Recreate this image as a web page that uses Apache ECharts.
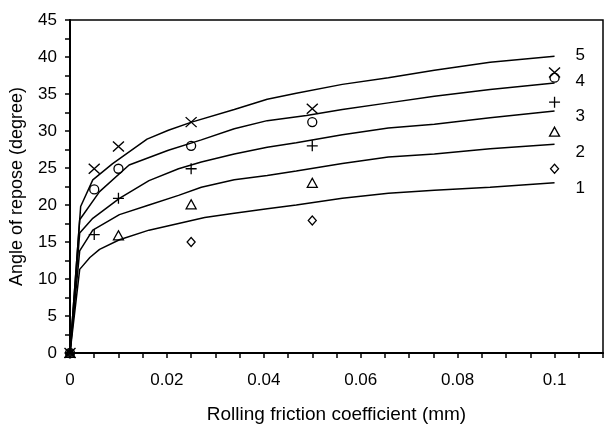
<!DOCTYPE html>
<html>
<head>
<meta charset="utf-8">
<script src="https://cdn.jsdelivr.net/npm/echarts@6/dist/echarts.min.js"></script>
<style>html,body{margin:0;padding:0;background:#fff}#c{width:606px;height:429px}</style>
</head>
<body>
<div id="c"></div>
<script>
// Fitted curves (x = rolling friction coefficient, y = angle of repose)
const curve1 = [[0,0],[0.002,11.3],[0.0041,12.9],[0.0061,14.0],[0.0102,15.3],[0.0163,16.6],[0.0224,17.5],[0.0278,18.3],[0.0339,18.9],[0.0407,19.5],[0.0467,20.0],[0.0562,20.9],[0.0657,21.6],[0.0752,22.0],[0.0867,22.4],[0.1,23.0]];
const curve2 = [[0,0],[0.002,13.8],[0.0047,16.6],[0.0102,18.7],[0.0163,20.0],[0.0224,21.3],[0.0271,22.4],[0.0339,23.4],[0.0407,24.0],[0.0467,24.6],[0.0562,25.6],[0.0657,26.5],[0.0752,26.9],[0.0867,27.6],[0.1,28.2]];
const curve3 = [[0,0],[0.002,16.2],[0.0047,18.2],[0.0102,20.9],[0.0163,23.3],[0.0224,24.9],[0.0271,25.8],[0.0339,26.9],[0.0407,27.8],[0.0467,28.4],[0.0562,29.5],[0.0657,30.4],[0.0752,30.9],[0.0867,31.8],[0.1,32.7]];
const curve4 = [[0,0],[0.002,18.0],[0.0061,21.8],[0.0122,25.4],[0.0203,27.4],[0.0271,28.8],[0.0339,30.3],[0.0407,31.4],[0.0488,32.1],[0.0562,32.9],[0.0657,33.8],[0.0752,34.7],[0.0867,35.6],[0.1,36.5]];
const curve5 = [[0,0],[0.0022,19.8],[0.0047,23.4],[0.0088,25.6],[0.0159,28.9],[0.0203,30.1],[0.0251,31.2],[0.0339,32.9],[0.0407,34.3],[0.0467,35.1],[0.0562,36.3],[0.0657,37.2],[0.0752,38.2],[0.0867,39.3],[0.1,40.1]];
// Measured points
const points1 = [[0,0],[0.025,15.0],[0.05,17.9],[0.1,24.9]];
const points2 = [[0,0],[0.01,15.9],[0.025,20.1],[0.05,23.0],[0.1,29.9]];
const points3 = [[0,0],[0.005,16.0],[0.01,20.9],[0.025,24.9],[0.05,28.0],[0.1,33.9]];
const points4 = [[0,0],[0.005,22.1],[0.01,24.9],[0.025,28.0],[0.05,31.2],[0.1,37.2]];
const points5 = [[0,0],[0.005,24.9],[0.01,27.9],[0.025,31.2],[0.05,33.0],[0.1,37.9]];
const curveNames = ['1','2','3','4','5'];

const font = '"Liberation Sans", Arial, sans-serif';
const curves = [curve1, curve2, curve3, curve4, curve5];
const pts = [points1, points2, points3, points4, points5];
const labelDy = [6, 8, 5, -2, -1];
const symbols = [
  {symbol:'diamond', size:[8,9]},
  {symbol:'triangle', size:[10,9]},
  {symbol:'path://M5,0L5,10M0,5L10,5', size:[11,11]},
  {symbol:'circle', size:9},
  {symbol:'path://M0,0L10,10M10,0L0,10', size:[11,10]}
];

const series = [];
curves.forEach((c, i) => {
  series.push({
    type:'line', name: curveNames[i], data: c, showSymbol:false, symbol:'none',
    lineStyle:{color:'#000', width:1.5}, silent:true,
    endLabel:{show:true, formatter: curveNames[i], offset:[13, labelDy[i]], color:'#000', fontSize:17, fontFamily:font},
    z:2
  });
});
pts.forEach((p, i) => {
  series.push({
    type:'scatter', name:'pts'+(i+1), data:p, symbol:symbols[i].symbol, symbolSize:symbols[i].size,
    itemStyle:{color:'rgba(255,255,255,0)', borderColor:'#000', borderWidth:1.3, opacity:1},
    z:3
  });
});

const chart = echarts.init(document.getElementById('c'), null, {renderer:'canvas'});
chart.setOption({
  animation:false,
  backgroundColor:'#fff',
  grid:{left:70, top:20, right:-5, bottom:73, show:true, borderColor:'#000', borderWidth:1.5, containLabel:false},
  xAxis:{
    type:'value', min:0, max:0.11, interval:0.005,
    name:'Rolling friction coefficient (mm)', nameLocation:'middle', nameGap:52,
    nameTextStyle:{color:'#000', fontSize:19, fontFamily:font},
    axisLine:{lineStyle:{color:'#000', width:2}},
    axisTick:{show:true, length:5, lineStyle:{color:'#000', width:1.5}},
    splitLine:{show:false},
    axisLabel:{color:'#000', fontSize:17, fontFamily:font, margin:19,
      formatter: v => { const k = Math.round(v/0.005); return (k%4===0 && k<=20) ? String(+(k*0.005).toFixed(3)) : ''; }}
  },
  yAxis:{
    type:'value', min:0, max:45, interval:2.5,
    name:'Angle of repose (degree)', nameLocation:'middle', nameGap:44,
    nameTextStyle:{color:'#000', fontSize:18, fontFamily:font},
    axisLine:{lineStyle:{color:'#000', width:2}},
    axisTick:{show:true, length:5, lineStyle:{color:'#000', width:1.5}},
    splitLine:{show:false},
    axisLabel:{color:'#000', fontSize:17, fontFamily:font, margin:13,
      formatter: v => { const k = Math.round(v/2.5); return k%2===0 ? String(k*2.5) : ''; }}
  },
  series: series
});
</script>
</body>
</html>
